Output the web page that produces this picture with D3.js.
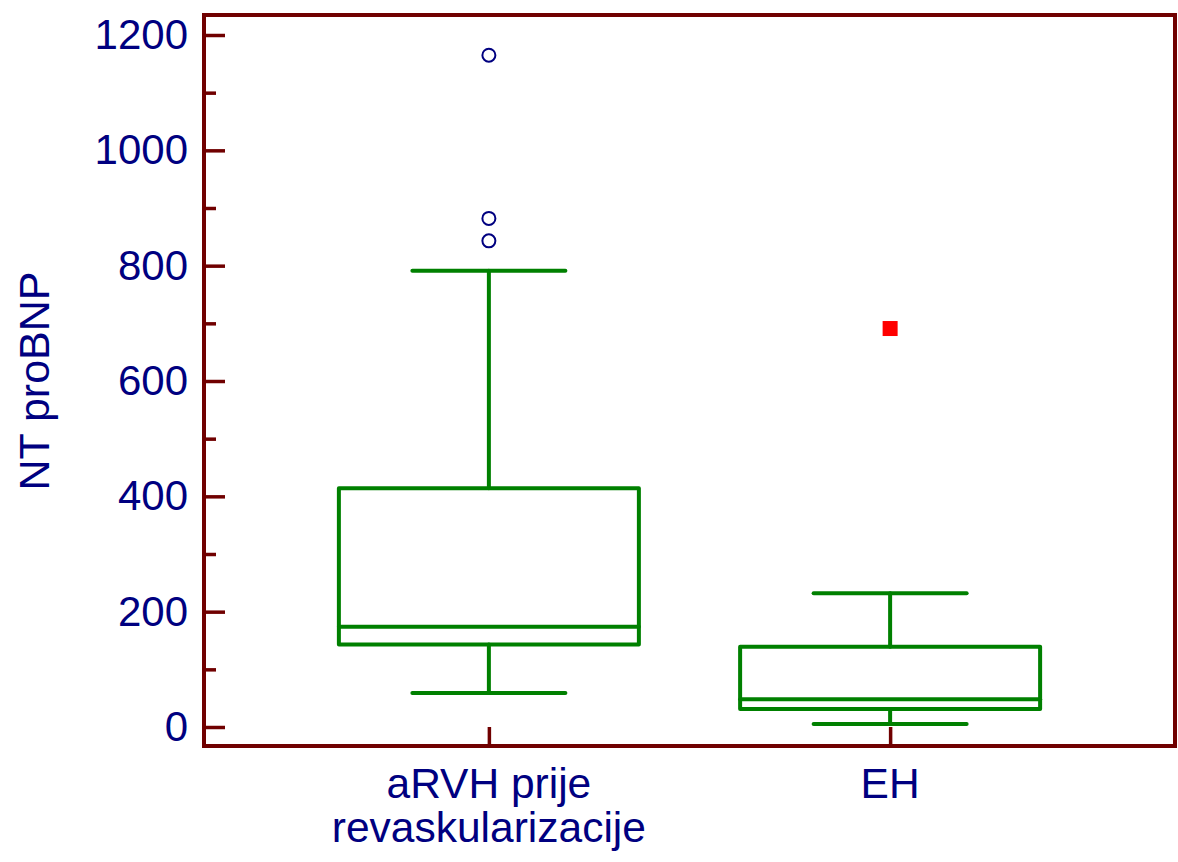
<!DOCTYPE html>
<html>
<head>
<meta charset="utf-8">
<script src="https://cdn.jsdelivr.net/npm/d3@7"></script>
<style>
  html, body { margin: 0; padding: 0; background: #fff; }
  svg { display: block; font-family: "Liberation Sans", Arial, sans-serif; }
</style>
</head>
<body>
<svg id="chart" width="1178" height="862"></svg>
<script>
// ---- data ----
const categories = ["aRVH prije revaskularizacije", "EH"];
const categoryLines = [["aRVH prije", "revaskularizacije"], ["EH"]];
const whiskerLow = [59, 5];
const q1 = [143, 31];
const median = [174, 48];
const q3 = [414, 139];
const whiskerHigh = [791, 232];
const outsideValues = [[1165, 882, 843], []];
const farOutValues = [[], [691]];
const majorTicks = [0, 200, 400, 600, 800, 1000, 1200];
const minorTicks = [100, 300, 500, 700, 900, 1100];
const yLabel = "NT proBNP";

// ---- layout ----
const frame = { left: 204, right: 1175, top: 15, bottom: 746 };
const frameColor = "#700000";
const textColor = "#000080";
const boxColor = "#008000";

const svg = d3.select("#chart");

const y = d3.scaleLinear().domain([0, 1200]).range([727, 35]);
const x = d3.scalePoint().domain(categories).range([frame.left, frame.right]).padding(0.71);

const boxW = 300, capW = 153;

// frame
svg.append("rect")
  .attr("x", frame.left).attr("y", frame.top)
  .attr("width", frame.right - frame.left).attr("height", frame.bottom - frame.top)
  .attr("fill", "none").attr("stroke", frameColor).attr("stroke-width", 4);

// y axis major ticks + labels
const gy = svg.append("g").attr("transform", `translate(${frame.left},0)`)
  .call(d3.axisLeft(y).tickValues(majorTicks).tickSize(-21).tickPadding(16).tickFormat(d3.format("d")));
gy.select(".domain").remove();
gy.selectAll(".tick line").attr("stroke", frameColor).attr("stroke-width", 3.5);
gy.selectAll(".tick text").attr("fill", textColor).attr("font-size", 42)
  .attr("font-family", "Liberation Sans, Arial, sans-serif");

// y minor ticks
const gym = svg.append("g").attr("transform", `translate(${frame.left},0)`)
  .call(d3.axisLeft(y).tickValues(minorTicks).tickSize(-12).tickFormat(""));
gym.select(".domain").remove();
gym.selectAll(".tick line").attr("stroke", frameColor).attr("stroke-width", 3.5);

// x ticks
const gx = svg.append("g").attr("transform", `translate(0,${frame.bottom})`)
  .call(d3.axisBottom(x).tickSize(-19).tickFormat(""));
gx.select(".domain").remove();
gx.selectAll(".tick line").attr("stroke", frameColor).attr("stroke-width", 3.5);

// x labels
categories.forEach((c, i) => {
  const t = svg.append("text")
    .attr("x", x(c)).attr("y", 798)
    .attr("text-anchor", "middle").attr("fill", textColor).attr("font-size", 42.5);
  categoryLines[i].forEach((line, j) => {
    t.append("tspan").attr("x", x(c)).attr("dy", j === 0 ? 0 : 44).text(line);
  });
});

// y label
svg.append("text")
  .attr("transform", `translate(49,381) rotate(-90)`)
  .attr("text-anchor", "middle").attr("fill", textColor).attr("font-size", 43)
  .text(yLabel);

// boxes
const g = svg.append("g")
  .attr("stroke", boxColor).attr("stroke-width", 4).attr("fill", "none")
  .attr("stroke-linecap", "round").attr("stroke-linejoin", "round");

categories.forEach((c, i) => {
  const cx = x(c);
  g.append("line").attr("x1", cx).attr("x2", cx).attr("y1", y(q3[i])).attr("y2", y(whiskerHigh[i]));
  g.append("line").attr("x1", cx).attr("x2", cx).attr("y1", y(q1[i])).attr("y2", y(whiskerLow[i]));
  g.append("line").attr("x1", cx - capW / 2).attr("x2", cx + capW / 2).attr("y1", y(whiskerHigh[i])).attr("y2", y(whiskerHigh[i]));
  g.append("line").attr("x1", cx - capW / 2).attr("x2", cx + capW / 2).attr("y1", y(whiskerLow[i])).attr("y2", y(whiskerLow[i]));
  g.append("rect").attr("x", cx - boxW / 2).attr("y", y(q3[i]))
    .attr("width", boxW).attr("height", y(q1[i]) - y(q3[i]));
  g.append("line").attr("x1", cx - boxW / 2).attr("x2", cx + boxW / 2).attr("y1", y(median[i])).attr("y2", y(median[i]));
  outsideValues[i].forEach(v => {
    svg.append("circle").attr("cx", cx).attr("cy", y(v)).attr("r", 6.5)
      .attr("fill", "none").attr("stroke", textColor).attr("stroke-width", 2);
  });
  farOutValues[i].forEach(v => {
    svg.append("rect").attr("x", cx - 7.5).attr("y", y(v) - 7.5)
      .attr("width", 15).attr("height", 15).attr("fill", "#ff0000");
  });
});
</script>
</body>
</html>
